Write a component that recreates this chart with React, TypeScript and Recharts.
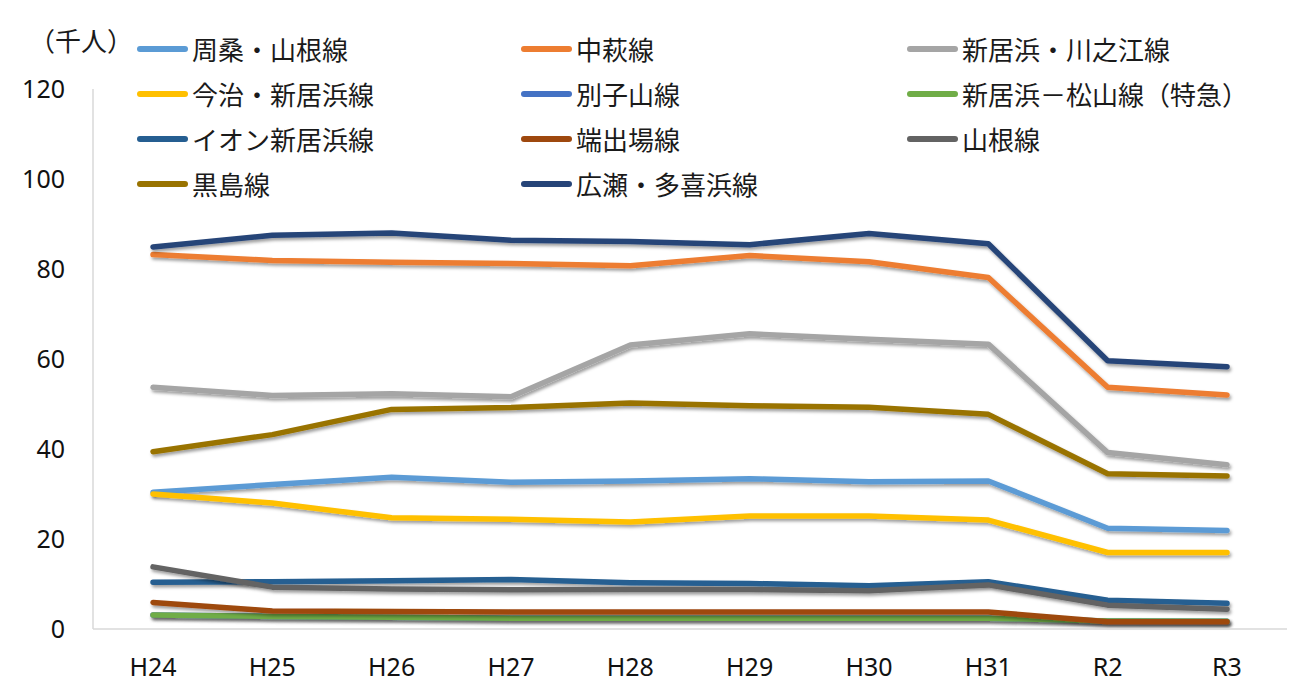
import { Legend, Line, LineChart, XAxis, YAxis } from "recharts";

const years = ["H24", "H25", "H26", "H27", "H28", "H29", "H30", "H31", "R2", "R3"];
const yTicks = [0, 20, 40, 60, 80, 100, 120];

// 千人
const shusoYamane = [30.4, 32.1, 33.7, 32.6, 32.9, 33.4, 32.7, 32.9, 22.4, 21.9];
const nakahagi = [83.2, 81.9, 81.5, 81.2, 80.7, 83.0, 81.6, 78.1, 53.7, 52.0];
const kawanoe = [53.7, 51.9, 52.3, 51.6, 63.1, 65.6, 64.4, 63.3, 39.2, 36.5];
const imabari = [30.0, 28.0, 24.7, 24.4, 23.8, 25.1, 25.1, 24.2, 17.0, 17.0];
const besshiyama = [3.1, 2.8, 2.6, 2.4, 2.4, 2.4, 2.4, 2.4, 1.8, 1.7];
const matsuyama = [3.1, 2.8, 2.6, 2.4, 2.4, 2.4, 2.4, 2.4, 1.8, 1.7];
const aeon = [10.4, 10.5, 10.7, 11.0, 10.3, 10.1, 9.6, 10.5, 6.4, 5.7];
const hadeba = [5.9, 4.0, 3.9, 3.8, 3.8, 3.8, 3.8, 3.8, 1.6, 1.6];
const yamane = [13.8, 9.3, 8.9, 8.7, 8.8, 8.8, 8.5, 9.8, 5.3, 4.4];
const kuroshima = [39.4, 43.2, 48.8, 49.2, 50.2, 49.6, 49.3, 47.7, 34.5, 34.0];
const hirose = [84.9, 87.5, 88.0, 86.4, 86.1, 85.4, 87.9, 85.6, 59.6, 58.3];

const series = [
  { key: "s1", name: "周桑・山根線", color: "#5B9BD5", values: shusoYamane },
  { key: "s2", name: "中萩線", color: "#ED7D31", values: nakahagi },
  { key: "s3", name: "新居浜・川之江線", color: "#A5A5A5", values: kawanoe },
  { key: "s4", name: "今治・新居浜線", color: "#FFC000", values: imabari },
  { key: "s5", name: "別子山線", color: "#4472C4", values: besshiyama },
  { key: "s6", name: "新居浜－松山線（特急）", color: "#70AD47", values: matsuyama },
  { key: "s7", name: "イオン新居浜線", color: "#255E91", values: aeon },
  { key: "s8", name: "端出場線", color: "#9E480E", values: hadeba },
  { key: "s9", name: "山根線", color: "#636363", values: yamane },
  { key: "s10", name: "黒島線", color: "#997300", values: kuroshima },
  { key: "s11", name: "広瀬・多喜浜線", color: "#264478", values: hirose },
];

const data = years.map((y, i) => {
  const row: Record<string, string | number> = { year: y };
  series.forEach((s) => {
    row[s.key] = s.values[i];
  });
  return row;
});

const W = 1290;
const H = 690;
const jpFont = "'Noto Sans CJK JP', 'Noto Sans', sans-serif";
const numFont = "'Noto Sans', 'Noto Sans CJK JP', sans-serif";

function LegendBox() {
  const colX = [129, 513, 899];
  const rowY = [41, 86, 131, 176];
  return (
    <div style={{ position: "relative", width: W, height: 210, fontFamily: jpFont, color: "#1a1a1a" }}>
      <div style={{ position: "absolute", left: 21, top: 32 - 18, fontSize: 26, lineHeight: "36px" }}>
        （千人）
      </div>
      {series.map((s, i) => (
        <div
          key={s.key}
          style={{
            position: "absolute",
            left: colX[i % 3],
            top: rowY[Math.floor(i / 3)] - 18,
            height: 36,
            display: "flex",
            alignItems: "center",
            whiteSpace: "nowrap",
          }}
        >
          <span
            style={{
              display: "inline-block",
              width: 51,
              height: 6,
              borderRadius: 3,
              background: s.color,
              marginRight: 4,
            }}
          />
          <span style={{ fontSize: 26, lineHeight: "36px" }}>{s.name}</span>
        </div>
      ))}
    </div>
  );
}

export default function App() {
  return (
    <div
      style={{
        width: W,
        height: H,
        border: "1px solid #d9d9d9",
        margin: "-1px 0 0 -1px",
        background: "#fff",
      }}
    >
      <LineChart width={W} height={H} data={data} margin={{ top: 81, right: 11, bottom: 0, left: 0 }}>
        <defs>
          <filter id="lineShadow" filterUnits="userSpaceOnUse" x={0} y={0} width={W} height={H}>
            <feDropShadow dx={1.5} dy={2.5} stdDeviation={1.8} floodColor="#000" floodOpacity={0.38} />
          </filter>
        </defs>
        <XAxis
          dataKey="year"
          height={69}
          padding={{ left: 60, right: 60 }}
          axisLine={{ stroke: "#d9d9d9", strokeWidth: 1.5 }}
          tickLine={false}
          tickSize={0}
          tickMargin={29}
          tick={{ fontSize: 25, fill: "#111", fontFamily: numFont }}
        />
        <YAxis
          width={85}
          domain={[0, 120]}
          ticks={yTicks}
          axisLine={{ stroke: "#d9d9d9", strokeWidth: 1.5 }}
          tickLine={false}
          tickSize={0}
          tickMargin={28}
          tick={{ fontSize: 25, fill: "#111", fontFamily: numFont }}
        />
        <Legend
          layout="horizontal"
          verticalAlign="middle"
          align="center"
          wrapperStyle={{ top: 0, left: 0, width: W, height: 210 }}
          content={() => <LegendBox />}
        />
        {series.map((s) => (
          <Line
            key={s.key}
            type="linear"
            dataKey={s.key}
            name={s.name}
            stroke={s.color}
            strokeWidth={5.5}
            strokeLinecap="round"
            strokeLinejoin="round"
            filter="url(#lineShadow)"
            dot={false}
            activeDot={false}
            isAnimationActive={false}
          />
        ))}
      </LineChart>
    </div>
  );
}
